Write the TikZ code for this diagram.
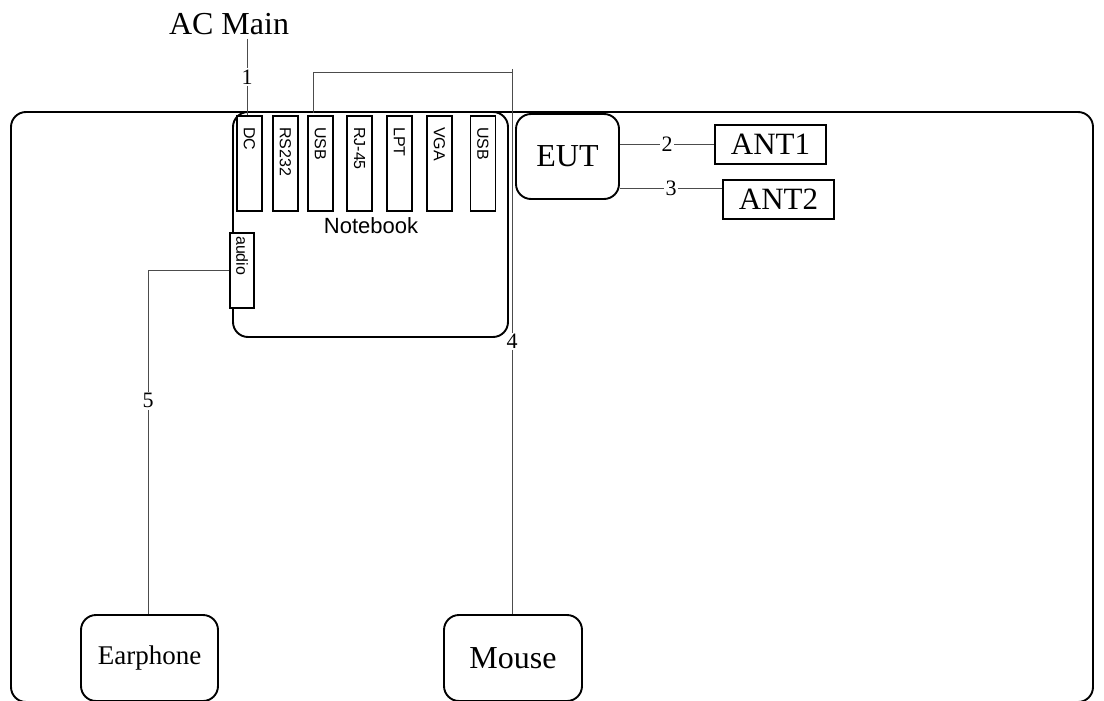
\documentclass[tikz,border=0pt]{standalone}
\usepackage{fontspec}
\setmainfont{Liberation Serif}
\setsansfont{Liberation Sans}
\begin{document}
\begin{tikzpicture}[x=1pt,y=-1pt,
  frame/.style={draw=black, line width=1.9pt, rounded corners=15pt},
  portbox/.style={draw=black, line width=1.5pt, minimum width=25pt, minimum height=95pt, inner sep=0pt, anchor=north},
  porttxt/.style={rotate=-90, anchor=west, inner sep=0pt, font=\sffamily\fontsize{16}{16}\selectfont},
  antbox/.style={draw=black, line width=1.5pt, minimum width=111pt, minimum height=39pt, inner sep=0pt, font=\fontsize{31}{31}\selectfont},
  wire/.style={draw=black!70, line width=1pt},
  num/.style={fill=white, inner sep=1.5pt, font=\fontsize{22}{22}\selectfont}]
\useasboundingbox (0,0) rectangle (1104,701);
\clip (0,0) rectangle (1104,701);
% outer frame
\draw[frame] (11,112) rectangle (1093,702);
% notebook
\node[frame, minimum width=275pt, minimum height=225pt, inner sep=0pt] (nb) at (370.5,224.5) {};
\node[font=\sffamily\fontsize{22}{22}\selectfont, anchor=base] (nblabel) at (371,233) {Notebook};
% ports
\node[portbox] (dc) at (249.5,115) {};
\node[porttxt] (dct) at (249.5,127) {DC};
\node[portbox] (rs) at (285.5,115) {};
\node[porttxt] (rst) at (285.5,127) {RS232};
\node[portbox] (usb1) at (320.5,115) {};
\node[porttxt] (usb1t) at (320.5,127) {USB};
\node[portbox] (rj) at (359.5,115) {};
\node[porttxt] (rjt) at (359.5,127) {RJ-45};
\node[portbox] (lpt) at (399.5,115) {};
\node[porttxt] (lptt) at (399.5,127) {LPT};
\node[portbox] (vga) at (439.5,115) {};
\node[porttxt] (vgat) at (439.5,127) {VGA};
\node[portbox] (usb2) at (483,115) {};
\node[porttxt] (usb2t) at (483,127) {USB};
% audio
\node[draw=black, line width=1.5pt, minimum width=24pt, minimum height=75pt, inner sep=0pt, anchor=north, fill=white] (audio) at (242,232) {};
\node[porttxt] (audiot) at (242,236) {audio};
% AC main
\node[font=\fontsize{32}{32}\selectfont, anchor=base, inner sep=0pt] (ac) at (229,35) {AC Main};
\coordinate (acbot) at (247,39);
% EUT
\node[frame, minimum width=103pt, minimum height=85pt, inner sep=0pt, font=\fontsize{32}{32}\selectfont] (eut) at (567.5,156.5) {EUT};
\node[antbox] (ant1) at (770.5,144.5) {ANT1};
\node[antbox] (ant2) at (778.5,199.5) {ANT2};
% earphone and mouse
\node[frame, minimum width=137pt, minimum height=86pt, inner sep=0pt, font=\fontsize{27}{27}\selectfont] (ear) at (149.5,658) {Earphone};
\node[frame, minimum width=138pt, minimum height=86pt, inner sep=0pt, font=\fontsize{32}{32}\selectfont] (mouse) at (513,658) {Mouse};
% connectors
\coordinate (usbtop) at (313,113);
\coordinate (bend) at (313,73);
\coordinate (top4) at (512,69);
\draw[wire] (acbot) -- node[num] {1} (acbot |- dc.north);
\draw[wire] (usbtop) -- (bend) -- (bend -| top4);
\draw[wire] (top4) -- node[num, pos=0.5] {4} (mouse.north -| top4);
\draw[wire] (eut.east |- ant1.west) -- node[num] {2} (ant1.west);
\draw[wire] (eut.east |- 0,188) -- node[num] {3} (ant2.west |- 0,188);
\draw[wire] (audio.west) -| node[num, pos=0.69] {5} (ear.north -| 148,0);
\end{tikzpicture}
\end{document}
